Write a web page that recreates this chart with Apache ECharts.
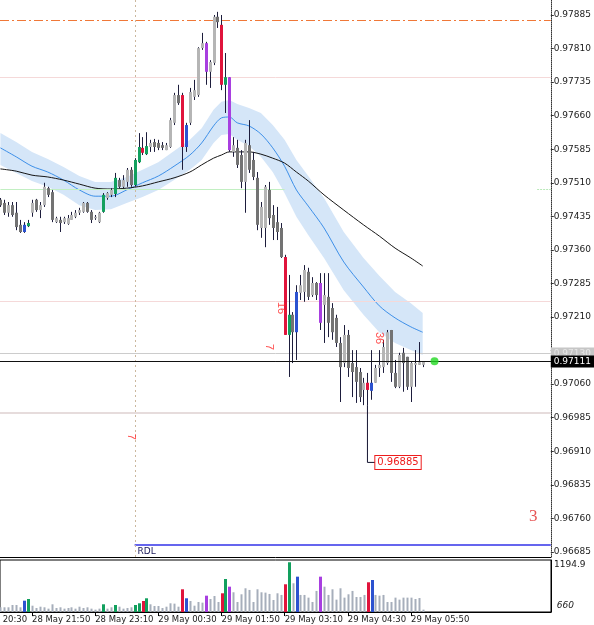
<!DOCTYPE html>
<html>
<head>
<meta charset="utf-8">
<script src="https://cdn.jsdelivr.net/npm/echarts@6/dist/echarts.min.js"></script>
<style>
  html, body { margin: 0; padding: 0; background: #fff; }
  #chart { width: 594px; height: 625px; }
</style>
</head>
<body>
<div id="chart"></div>
<script>
// M5 bars, slot 0 = 28 May 20:30; first visible bar is slot 8
const firstBar = 8
const slotMin = 7.894
const slotMax = 147.458
const tickSlots = [0, 16, 32, 48, 64, 80, 96, 112]
const tickLabels = ['28 May 20:30', '28 May 21:50', '28 May 23:10', '29 May 00:30', '29 May 01:50',
  '29 May 03:10', '29 May 04:30', '29 May 05:50']
const priceTicks = [0.96685, 0.96760, 0.96835, 0.96910, 0.96985, 0.97060, 0.97135, 0.97210, 0.97285,
  0.97360, 0.97435, 0.97510, 0.97585, 0.97660, 0.97735, 0.97810, 0.97885]

// [open, close, low, high]
const candles = [
  [0.97472, 0.97460, 0.97456, 0.97476], [0.97465, 0.97443, 0.97438, 0.97472], [0.97443, 0.97460, 0.97434, 0.97467],
  [0.97460, 0.97438, 0.97434, 0.97467], [0.97443, 0.97411, 0.97404, 0.97467], [0.97416, 0.97400, 0.97398, 0.97427],
  [0.97400, 0.97416, 0.97398, 0.97422], [0.97413, 0.97420, 0.97411, 0.97427], [0.97443, 0.97465, 0.97434, 0.97472],
  [0.97472, 0.97449, 0.97445, 0.97474], [0.97449, 0.97460, 0.97431, 0.97467], [0.97460, 0.97501, 0.97456, 0.97510],
  [0.97498, 0.97483, 0.97478, 0.97501], [0.97489, 0.97427, 0.97422, 0.97494], [0.97422, 0.97431, 0.97420, 0.97434],
  [0.97427, 0.97420, 0.97400, 0.97434], [0.97422, 0.97431, 0.97418, 0.97434], [0.97418, 0.97431, 0.97416, 0.97438],
  [0.97427, 0.97438, 0.97427, 0.97445], [0.97434, 0.97443, 0.97431, 0.97449], [0.97443, 0.97449, 0.97438, 0.97454],
  [0.97445, 0.97465, 0.97443, 0.97467], [0.97465, 0.97445, 0.97443, 0.97467], [0.97445, 0.97427, 0.97420, 0.97449],
  [0.97431, 0.97434, 0.97427, 0.97438], [0.97422, 0.97443, 0.97420, 0.97445], [0.97445, 0.97483, 0.97443, 0.97487],
  [0.97476, 0.97487, 0.97472, 0.97489], [0.97483, 0.97494, 0.97478, 0.97498], [0.97485, 0.97521, 0.97478, 0.97532],
  [0.97516, 0.97501, 0.97498, 0.97521], [0.97501, 0.97516, 0.97498, 0.97527], [0.97512, 0.97539, 0.97501, 0.97543],
  [0.97539, 0.97505, 0.97501, 0.97545], [0.97505, 0.97561, 0.97501, 0.97565], [0.97556, 0.97590, 0.97554, 0.97621],
  [0.97588, 0.97577, 0.97572, 0.97612], [0.97574, 0.97592, 0.97572, 0.97623], [0.97590, 0.97599, 0.97579, 0.97606],
  [0.97601, 0.97590, 0.97579, 0.97608], [0.97599, 0.97588, 0.97583, 0.97606], [0.97594, 0.97588, 0.97583, 0.97601],
  [0.97583, 0.97594, 0.97583, 0.97599], [0.97590, 0.97650, 0.97588, 0.97655], [0.97644, 0.97706, 0.97639, 0.97711],
  [0.97706, 0.97688, 0.97684, 0.97729], [0.97706, 0.97590, 0.97539, 0.97711], [0.97590, 0.97639, 0.97579, 0.97644],
  [0.97644, 0.97713, 0.97639, 0.97722], [0.97702, 0.97717, 0.97695, 0.97740], [0.97706, 0.97811, 0.97702, 0.97813],
  [0.97811, 0.97822, 0.97807, 0.97845], [0.97822, 0.97758, 0.97729, 0.97825], [0.97758, 0.97780, 0.97722, 0.97784],
  [0.97778, 0.97881, 0.97773, 0.97885], [0.97881, 0.97869, 0.97856, 0.97892], [0.97863, 0.97729, 0.97717, 0.97885],
  [0.97729, 0.97746, 0.97666, 0.97800], [0.97746, 0.97583, 0.97579, 0.97746], [0.97579, 0.97594, 0.97568, 0.97612],
  [0.97588, 0.97550, 0.97543, 0.97606], [0.97572, 0.97512, 0.97498, 0.97583], [0.97512, 0.97599, 0.97443, 0.97606],
  [0.97594, 0.97539, 0.97532, 0.97650], [0.97561, 0.97523, 0.97516, 0.97579], [0.97521, 0.97416, 0.97404, 0.97534],
  [0.97409, 0.97456, 0.97387, 0.97467], [0.97409, 0.97501, 0.97366, 0.97505], [0.97494, 0.97431, 0.97416, 0.97512],
  [0.97438, 0.97409, 0.97382, 0.97460], [0.97422, 0.97400, 0.97382, 0.97456], [0.97409, 0.97344, 0.97342, 0.97420],
  [0.97344, 0.97170, 0.97170, 0.97349], [0.97170, 0.97215, 0.97076, 0.97304], [0.97215, 0.97176, 0.97107, 0.97221],
  [0.97176, 0.97266, 0.97114, 0.97281], [0.97264, 0.97281, 0.97248, 0.97304], [0.97266, 0.97315, 0.97244, 0.97326],
  [0.97311, 0.97255, 0.97248, 0.97320], [0.97259, 0.97286, 0.97255, 0.97299], [0.97286, 0.97259, 0.97248, 0.97288],
  [0.97286, 0.97197, 0.97181, 0.97308], [0.97237, 0.97259, 0.97152, 0.97308], [0.97255, 0.97197, 0.97165, 0.97308],
  [0.97230, 0.97176, 0.97159, 0.97241], [0.97208, 0.97152, 0.97143, 0.97215], [0.97152, 0.97098, 0.97020, 0.97165],
  [0.97107, 0.97170, 0.97098, 0.97192], [0.97170, 0.97096, 0.97076, 0.97181], [0.97107, 0.97087, 0.97031, 0.97136],
  [0.97098, 0.97065, 0.97018, 0.97136], [0.97087, 0.97031, 0.97020, 0.97096], [0.97047, 0.97063, 0.97013, 0.97074],
  [0.97063, 0.97047, 0.97013, 0.97085], [0.97045, 0.97063, 0.97025, 0.97136], [0.97063, 0.97096, 0.97063, 0.97103],
  [0.97096, 0.97103, 0.97076, 0.97136], [0.97098, 0.97143, 0.97085, 0.97159], [0.97107, 0.97176, 0.97103, 0.97181],
  [0.97181, 0.97085, 0.97065, 0.97181], [0.97085, 0.97054, 0.97051, 0.97114], [0.97054, 0.97125, 0.97051, 0.97130],
  [0.97130, 0.97107, 0.97043, 0.97141], [0.97121, 0.97054, 0.97047, 0.97121], [0.97054, 0.97107, 0.97020, 0.97109],
  [0.97103, 0.97107, 0.97054, 0.97136], [0.97103, 0.97109, 0.97103, 0.97154], [0.97103, 0.97111, 0.97098, 0.97111]
]

const volumes = [
  108, 108, 108, 161, 161, 108, 260, 299, 145, 92,
  122, 108, 77, 177, 92, 108, 77, 92, 108, 77,
  122, 92, 108, 77, 54, 77, 177, 77, 108, 161,
  122, 77, 92, 108, 161, 200, 253, 315, 177, 138,
  138, 92, 122, 200, 192, 122, 522, 315, 253, 145,
  230, 215, 375, 299, 368, 230, 430, 759, 582, 453,
  230, 407, 545, 507, 230, 522, 453, 445, 415, 276,
  430, 392, 637, 1143, 660, 812, 392, 392, 330, 230,
  484, 812, 582, 392, 522, 284, 545, 330, 407, 484,
  345, 345, 392, 683, 736, 392, 376, 392, 230, 230,
  330, 284, 330, 330, 330, 299, 322, 54
]

// bars the indicator paints in colour (slot numbers)
const redBars = [44, 54, 64, 80, 101]
const greenBars = [15, 34, 37, 42, 43, 45, 65, 81]
const blueBars = [14, 55, 83, 102]
const purpleBars = [60, 66, 89]

// moving averages and channel, read at these slots
const maSlots = [8, 12, 16, 20, 24, 28, 32, 36, 40, 44, 48, 52, 56, 59, 62, 64, 66, 68, 71, 74, 77, 80, 83, 86, 90, 95, 100, 104, 108, 112, 115]
const maFast = [0.97588, 0.97568, 0.97547, 0.97534, 0.97516, 0.97494, 0.97480, 0.97480, 0.97494, 0.97510, 0.97525, 0.97547, 0.97572, 0.97599, 0.97637, 0.97655,
  0.97657, 0.97644, 0.97637, 0.97619, 0.97588, 0.97547, 0.97494, 0.97458, 0.97409, 0.97333, 0.97277, 0.97235, 0.97208, 0.97188, 0.97176]
const bandUpper = [0.97621, 0.97601, 0.97579, 0.97563, 0.97545, 0.97525, 0.97512, 0.97512, 0.97523, 0.97539, 0.97556, 0.97581, 0.97606, 0.97632, 0.97673, 0.97691,
  0.97695, 0.97686, 0.97677, 0.97666, 0.97639, 0.97606, 0.97561, 0.97525, 0.97476, 0.97400, 0.97342, 0.97302, 0.97266, 0.97241, 0.97219]
const bandLower = [0.97550, 0.97532, 0.97514, 0.97501, 0.97483, 0.97460, 0.97449, 0.97451, 0.97465, 0.97478, 0.97494, 0.97516, 0.97539, 0.97561, 0.97599, 0.97617,
  0.97619, 0.97606, 0.97592, 0.97568, 0.97534, 0.97487, 0.97434, 0.97393, 0.97342, 0.97270, 0.97215, 0.97176, 0.97152, 0.97136, 0.97125]
const maSlow = [0.97541, 0.97536, 0.97527, 0.97523, 0.97516, 0.97507, 0.97498, 0.97496, 0.97498, 0.97503, 0.97512, 0.97521, 0.97534, 0.97550, 0.97565, 0.97572,
  0.97579, 0.97579, 0.97579, 0.97574, 0.97565, 0.97554, 0.97534, 0.97514, 0.97483, 0.97449, 0.97416, 0.97391, 0.97364, 0.97342, 0.97324]

const bid = 0.97111
const ask = 0.97130
const levelHigh = 0.97874
const levelPink1 = 0.97746
const levelPink2 = 0.97246
const levelGreen = 0.97496
const levelLow = 0.96996
const rdlLevel = 0.96700
const daySlot = 42
const lowMarkSlot = 101
const lowMarkFrom = 0.97013
const lowMarkValue = 0.96885
const dotSlot = 118

// red figures on the chart: [slot, price, text, rotated]
const notes = [
  [79, 0.97230, '16', true],
  [104, 0.97163, '36', true],
  [76, 0.97143, '7', true],
  [41, 0.96942, '7', true]
]
const bigNote = [143, 0.96763, '3']

const FONT = 'DejaVu Sans'
const kindOf = i => redBars.includes(i) ? 'red' : greenBars.includes(i) ? 'green'
  : blueBars.includes(i) ? 'blue' : purpleBars.includes(i) ? 'purple' : null
const kindColor = {red: '#e0143c', green: '#12a05e', blue: '#2c52d0', purple: '#a83fe0'}

// horizontal / vertical levels; from/to are slots, omitted = full width
const levelDefs = [
  {v: levelPink1, color: '#f5d9d9', width: 1},
  {v: levelPink2, color: '#f5d9d9', width: 1},
  {v: levelLow, color: '#e6dcdc', width: 2},
  {v: levelGreen, color: '#c2efc2', width: 1, from: firstBar, to: 80},
  {v: levelGreen, color: '#b8e8b8', width: 1, from: 144, dash: [2, 1]},
  {v: levelHigh, color: '#f07838', width: 1, dash: [9, 3, 2, 3]},
  {v: ask, color: '#cccccc', width: 1, tag: ask.toFixed(5), tagBg: '#c6c6c6', tagFg: '#e6e6e6'},
  {v: rdlLevel, color: '#6565ee', width: 2, from: daySlot, text: 'RDL'},
  {v: null, color: '#cbb89e', width: 1, dash: [2, 3], at: daySlot},
  {v: bid, color: '#111111', width: 1, tag: bid.toFixed(5), tagBg: '#000', tagFg: '#fff'}
]

let myEchart = echarts.init(document.getElementById('chart'))

const slotAxis = (gridIndex, withLabels) => ({
  type: 'value', gridIndex, min: slotMin, max: slotMax,
  axisLine: {show: true, onZero: false, lineStyle: {color: '#000'}},
  axisTick: withLabels
    ? {show: true, customValues: tickSlots, length: 4, lineStyle: {color: '#000'}}
    : {show: false},
  axisLabel: withLabels
    ? {show: true, customValues: tickSlots, align: 'left', margin: 3, fontFamily: FONT, fontSize: 8.5, color: '#1a1a1a',
       formatter: v => tickLabels[tickSlots.indexOf(Math.round(v))] || ''}
    : {show: false},
  splitLine: {show: false}
})

myEchart.setOption({
  animation: false,
  backgroundColor: '#fff',
  grid: [
    {left: 0, right: 43, top: 0, height: 557},
    {left: 0, right: 43, top: 560, height: 52, show: true, borderColor: '#000', borderWidth: 1}
  ],
  xAxis: [slotAxis(0, false), slotAxis(1, true)],
  yAxis: [
    {
      type: 'value', gridIndex: 0, position: 'right', scale: true,
      min: 0.966736, max: 0.979185,
      axisLine: {show: true, onZero: false, lineStyle: {color: '#333', type: [1, 1]}},
      axisTick: {show: true, customValues: priceTicks, length: 3, lineStyle: {color: '#333'}},
      axisLabel: {
        show: true, customValues: priceTicks, margin: 3,
        fontFamily: FONT, fontSize: 9, color: '#1a1a1a',
        formatter: v => Math.abs(v - 0.97135) < 1e-7 ? '' : v.toFixed(5)
      },
      splitLine: {show: false}
    },
    {
      type: 'value', gridIndex: 1, position: 'right', min: 0, max: 1194.9,
      axisLine: {show: true, onZero: false, lineStyle: {color: '#000'}},
      axisTick: {show: false},
      axisLabel: {
        show: true, customValues: [1194.9], margin: 3, verticalAlign: 'top',
        fontFamily: FONT, fontSize: 9, color: '#1a1a1a',
        formatter: v => v.toFixed(1)
      },
      splitLine: {show: false}
    }
  ],
  series: [
    {
      // channel around the fast average
      type: 'custom', xAxisIndex: 0, yAxisIndex: 0, silent: true, z: 1,
      data: [[maSlots[0], bandUpper[0]]],
      encode: {x: 0, y: 1},
      renderItem(params, api) {
        const pts = []
        maSlots.forEach((s, k) => pts.push(api.coord([s, bandUpper[k]])))
        for (let k = maSlots.length - 1; k >= 0; k--) pts.push(api.coord([maSlots[k], bandLower[k]]))
        return {type: 'polygon', shape: {points: pts}, style: {fill: '#d5e6f8'}}
      }
    },
    {
      name: 'fast', type: 'line', xAxisIndex: 0, yAxisIndex: 0, z: 2,
      data: maSlots.map((s, k) => [s, maFast[k]]),
      symbol: 'none', smooth: 0.3,
      lineStyle: {color: '#3d8fe8', width: 1}
    },
    {
      name: 'slow', type: 'line', xAxisIndex: 0, yAxisIndex: 0, z: 2,
      data: maSlots.map((s, k) => [s, maSlow[k]]),
      symbol: 'none', smooth: 0.3,
      lineStyle: {color: '#151515', width: 1}
    },
    {
      name: 'levels', type: 'custom', xAxisIndex: 0, yAxisIndex: 0, silent: true, z: 3,
      data: levelDefs.map((d, i) => [i, d.v == null ? bid : d.v]),
      encode: {x: 0, y: 1},
      renderItem(params, api) {
        const d = levelDefs[api.value(0)]
        const cs = params.coordSys
        const style = {stroke: d.color, lineWidth: d.width, lineDash: d.dash || null}
        if (d.at != null) {
          const x = Math.round(api.coord([d.at, bid])[0]) + 0.5
          return {type: 'line', shape: {x1: x, y1: cs.y, x2: x, y2: cs.y + cs.height}, style}
        }
        const y = Math.round(api.coord([firstBar, d.v])[1]) + (d.width === 2 ? 0 : 0.5)
        const x1 = d.from != null ? api.coord([d.from, d.v])[0] : cs.x
        const x2 = d.to != null ? api.coord([d.to, d.v])[0] : cs.x + cs.width
        const children = [{type: 'line', shape: {x1, y1: y, x2, y2: y}, style}]
        if (d.tag) {
          children.push({type: 'text', x: cs.x + cs.width, y: y, style: {
            text: d.tag, fill: d.tagFg, backgroundColor: d.tagBg, padding: [2, 4, 1, 3],
            font: '9px ' + FONT, verticalAlign: 'middle', align: 'left'}})
        }
        if (d.text) {
          children.push({type: 'text', x: x1 + 3, y: y + 2, style: {
            text: d.text, fill: '#20205e', font: '9px ' + FONT, verticalAlign: 'top', align: 'left'}})
        }
        return {type: 'group', children}
      }
    },
    {
      name: 'price', type: 'custom', xAxisIndex: 0, yAxisIndex: 0, z: 5,
      data: candles.map((c, i) => [firstBar + i, c[0], c[1], c[2], c[3]]),
      encode: {x: 0, y: [1, 2, 3, 4]},
      renderItem(params, api) {
        const slot = api.value(0)
        const o = api.value(1), c = api.value(2), l = api.value(3), h = api.value(4)
        const x = Math.round(api.coord([slot, o])[0])
        const yo = api.coord([slot, o])[1], yc = api.coord([slot, c])[1]
        const yl = api.coord([slot, l])[1], yh = api.coord([slot, h])[1]
        const kind = kindOf(slot)
        const fill = kind ? kindColor[kind] : (c >= o ? '#b5b5b5' : '#737373')
        const top = Math.min(yo, yc)
        const hgt = Math.max(1.5, Math.abs(yo - yc))
        return {
          type: 'group',
          children: [
            {type: 'line', shape: {x1: x + 0.5, y1: yh, x2: x + 0.5, y2: yl}, style: {stroke: '#1d1d3c', lineWidth: 1}},
            {type: 'rect', shape: {x: x - 1, y: top, width: 3, height: hgt}, style: {fill: fill}}
          ]
        }
      }
    },
    {
      // the bid line is drawn again above the candles
      type: 'custom', xAxisIndex: 0, yAxisIndex: 0, silent: true, z: 6,
      data: [[firstBar, bid]], encode: {x: 0, y: 1},
      renderItem(params, api) {
        const cs = params.coordSys
        const y = Math.round(api.coord([firstBar, bid])[1]) + 0.5
        return {type: 'line', shape: {x1: cs.x, y1: y, x2: cs.x + cs.width, y2: y}, style: {stroke: '#111', lineWidth: 1}}
      }
    },
    {
      // leader from the low to the price tag
      type: 'line', xAxisIndex: 0, yAxisIndex: 0, z: 6,
      data: [[lowMarkSlot, lowMarkFrom], [lowMarkSlot, lowMarkValue], [lowMarkSlot + 2, lowMarkValue]],
      symbol: 'none', lineStyle: {color: '#141430', width: 1},
      endLabel: {
        show: true, formatter: lowMarkValue.toFixed(5), distance: 0,
        color: '#ee1c1c', backgroundColor: '#fff', borderColor: '#ee1c1c', borderWidth: 1,
        padding: [2, 2, 1, 2], fontFamily: FONT, fontSize: 10
      }
    },
    {
      type: 'scatter', xAxisIndex: 0, yAxisIndex: 0, z: 7,
      data: [[dotSlot, bid]], symbolSize: 8,
      itemStyle: {color: '#22d822'}
    },
    {
      type: 'scatter', xAxisIndex: 0, yAxisIndex: 0, z: 7, symbolSize: 0, silent: true,
      data: notes.map(n => ({name: n[2], value: [n[0], n[1]], label: {rotate: n[3] ? -90 : 0}}))
        .concat([{name: bigNote[2], value: [bigNote[0], bigNote[1]],
          label: {fontFamily: 'Liberation Serif', fontSize: 17, color: '#e02828'}}]),
      label: {show: true, position: 'inside', formatter: '{b}', color: '#ff2222',
        fontFamily: 'Liberation Sans', fontSize: 11}
    },
    {
      name: 'volume', type: 'custom', xAxisIndex: 1, yAxisIndex: 1,
      data: volumes.map((v, i) => [firstBar + i, v]),
      encode: {x: 0, y: 1},
      renderItem(params, api) {
        const slot = api.value(0)
        const p = api.coord([slot, api.value(1)])
        const b = api.coord([slot, 0])
        const kind = kindOf(slot)
        const x = Math.round(p[0])
        return {
          type: 'rect',
          shape: {x: kind ? x - 1 : x - 0.5, y: p[1], width: kind ? 3 : 2, height: b[1] - p[1]},
          style: {fill: kind ? kindColor[kind] : '#a6aebb'}
        }
      }
    }
  ]
})

// the first time label sits left of the visible bars, so place it by the axis scale
const firstTickX = myEchart.convertToPixel({xAxisIndex: 1}, tickSlots[0])
myEchart.setOption({
  graphic: [
    {type: 'text', x: firstTickX, y: 615, style: {text: tickLabels[0], font: '8.5px ' + FONT, fill: '#1a1a1a'}},
    {type: 'text', right: 20, top: 601, style: {text: '660', font: 'italic 9px ' + FONT, fill: '#1a1a1a'}}
  ]
})
</script>
</body>
</html>
